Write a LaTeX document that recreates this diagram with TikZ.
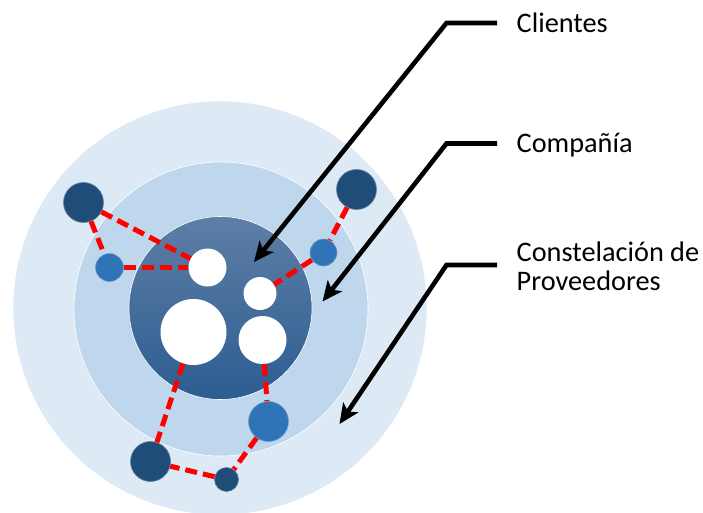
\documentclass[tikz,border=0pt]{standalone}
\usepackage{fontspec}
\setmainfont{Carlito}
\usetikzlibrary{arrows.meta}
\definecolor{ringout}{RGB}{221,234,246}
\definecolor{ringmid}{RGB}{190,215,237}
\definecolor{innertop}{RGB}{94,126,166}
\definecolor{innerbot}{RGB}{44,93,145}
\definecolor{satdark}{RGB}{31,77,120}
\definecolor{satmid}{RGB}{46,116,182}
\definecolor{linkred}{RGB}{255,0,0}
\tikzset{
  ring/.style={circle, inner sep=0pt, draw=white, line width=0.6pt},
  whitedot/.style={circle, fill=white, inner sep=0pt, minimum size=#1},
  darkdot/.style={circle, fill=satdark, draw=satdark!70!white, line width=0.6pt, inner sep=0pt, minimum size=#1},
  middot/.style={circle, fill=satmid, draw=satmid!70!white, line width=0.6pt, inner sep=0pt, minimum size=#1},
  link/.style={draw=linkred, line width=5pt, dash pattern=on 12pt off 6pt},
  pointer/.style={draw=black, line width=4.6pt, -{Stealth[length=20pt,width=18pt,inset=5pt]}},
  label/.style={anchor=base west, inner sep=0pt, font=\fontsize{28.3}{28.5}\selectfont, align=left}
}
\begin{document}
\begin{tikzpicture}[x=1pt,y=-1pt]
\useasboundingbox (0,0) rectangle (703,513);
% rings
\node[ring, fill=ringout, minimum size=414pt] (outer) at (220,308) {};
\node[ring, fill=ringmid, minimum size=294pt] (middle) at (221,309) {};
\node[ring, top color=innertop, bottom color=innerbot, minimum size=183pt] (inner) at (220.5,308) {};
% white circles (clients)
\node[whitedot=38pt] (wtop) at (207.5,267.5) {};
\node[whitedot=33pt] (wright) at (260,293.5) {};
\node[whitedot=66pt] (wbig) at (193.5,332) {};
\node[whitedot=48pt] (wlow) at (262.5,340) {};
% suppliers
\node[darkdot=40pt] (stl) at (83.5,202.5) {};
\node[middot=28pt] (sl) at (109.5,267.5) {};
\node[darkdot=40pt] (str) at (356.5,189.5) {};
\node[middot=27pt] (sr) at (323.5,252.5) {};
\node[middot=40pt] (slr) at (268.5,421.5) {};
\node[darkdot=40pt] (sbl) at (150.5,461.5) {};
\node[darkdot=24pt] (sbs) at (226.5,479.5) {};
% links
\draw[link] (stl) -- (wtop);
\draw[link] (stl) -- (sl);
\draw[link] (sl) -- (wtop);
\draw[link] (str) -- (sr);
\draw[link] (sr) -- (wright);
\draw[link] (wbig) -- (sbl);
\draw[link] (wlow) -- (slr);
\draw[link] (slr) -- (sbs);
\draw[link] (sbs) -- (sbl);
% labels
\node[label] (lclient) at (516.5,32.5) {Clientes};
\node[label] (lcomp) at (516.5,153) {Compañía};
\node[label] (lconst) at (516.5,290) {Constelación de\\Proveedores};
% pointer geometry
\coordinate (h1s) at (497,23);
\coordinate (h1c) at (446.5,23);
\coordinate (t1) at (254,262);
\coordinate (h2s) at (497,143.5);
\coordinate (h2c) at (446.5,143.5);
\coordinate (t2) at (322.5,301.5);
\coordinate (h3s) at (497,265);
\coordinate (h3c) at (446.5,265);
\coordinate (t3) at (339.5,424);
\draw[pointer] (h1s) -- (h1c) -- (t1);
\draw[pointer] (h2s) -- (h2c) -- (t2);
\draw[pointer] (h3s) -- (h3c) -- (t3);
\end{tikzpicture}
\end{document}
